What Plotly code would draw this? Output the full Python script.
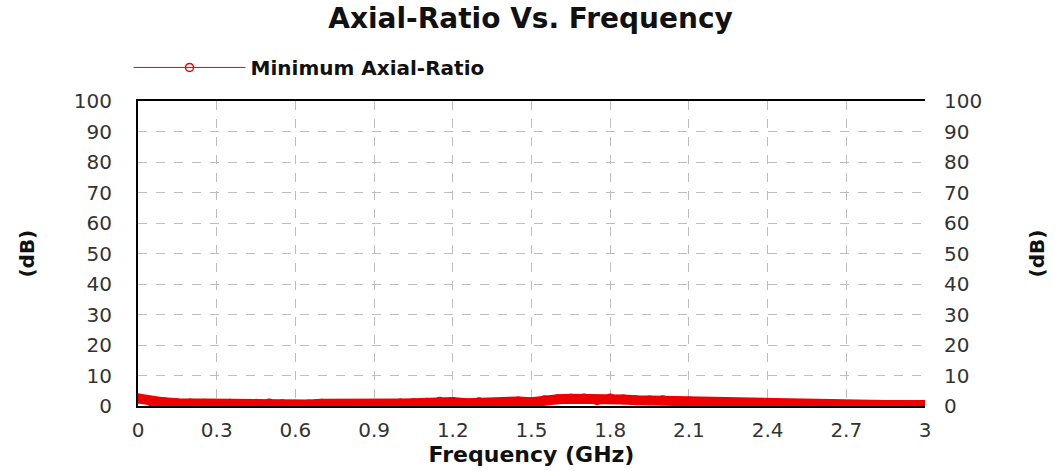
import plotly.graph_objects as go

freq_ghz = [0.00, 0.05, 0.10, 0.15, 0.20, 0.25, 0.30, 0.35, 0.40, 0.45,
            0.50, 0.55, 0.60, 0.65, 0.70, 0.75, 0.80, 0.85, 0.90, 0.95,
            1.00, 1.05, 1.10, 1.15, 1.20, 1.25, 1.30, 1.35, 1.40, 1.45,
            1.50, 1.55, 1.60, 1.65, 1.70, 1.75, 1.80, 1.85, 1.90, 1.95,
            2.00, 2.05, 2.10, 2.15, 2.20, 2.25, 2.30, 2.35, 2.40, 2.45,
            2.50, 2.55, 2.60, 2.65, 2.70, 2.75, 2.80, 2.85, 2.90, 2.95, 3.00]
axial_ratio_db = [2.5, 1.5, 1.2, 0.9, 0.8, 0.7, 0.6, 0.7, 0.6, 0.7,
                  0.8, 0.6, 0.4, 0.5, 0.7, 0.6, 0.4, 0.5, 0.5, 0.6,
                  0.8, 0.9, 1.1, 1.4, 1.3, 0.9, 1.2, 0.9, 1.1, 1.5,
                  1.2, 1.9, 2.2, 2.4, 2.5, 1.9, 2.5, 2.1, 1.9, 1.8,
                  1.9, 1.4, 1.5, 1.1, 1.2, 0.9, 1.0, 0.5, 0.4, 0.3,
                  0.3, 0.3, 0.3, 0.3, 0.3, 0.3, 0.3, 0.3, 0.3, 0.3, 0.3]

x_ticks = [0, 0.3, 0.6, 0.9, 1.2, 1.5, 1.8, 2.1, 2.4, 2.7, 3]
x_tick_labels = ["0", "0.3", "0.6", "0.9", "1.2", "1.5", "1.8", "2.1", "2.4", "2.7", "3"]
y_ticks = [0, 10, 20, 30, 40, 50, 60, 70, 80, 90, 100]

series_name = "Minimum Axial-Ratio"
RED = "#ee0000"
FONT = "DejaVu Sans, Verdana, sans-serif"

fig = go.Figure()

# thick data band
fig.add_trace(go.Scatter(
    x=freq_ghz, y=axial_ratio_db, mode="lines+markers",
    line=dict(color=RED, width=10),
    marker=dict(symbol="circle", size=10, color=RED),
    showlegend=False, hoverinfo="x+y",
))
# legend entry (thin line + open circle)
fig.add_trace(go.Scatter(
    x=[None], y=[None], mode="lines+markers", name=series_name,
    line=dict(color=RED, width=1),
    marker=dict(symbol="circle-open", size=8, color=RED, line=dict(width=1.5)),
))
# mirrored right axis
fig.add_trace(go.Scatter(
    x=[None], y=[None], yaxis="y2", showlegend=False, hoverinfo="skip",
))

grid = dict(showgrid=True, gridcolor="#bdbdbd", griddash="dash", gridwidth=1)
tickfont = dict(family=FONT, size=20, color="#333333")

fig.update_layout(
    width=1061, height=471,
    margin=dict(l=138, r=136, t=101, b=63),
    paper_bgcolor="white", plot_bgcolor="white",
    title=dict(text="<b>Axial-Ratio Vs. Frequency</b>", x=0.5, xanchor="center",
               y=0.962, yanchor="middle",
               font=dict(family=FONT, size=28, color="#111111")),
    legend=dict(x=-0.012, y=1.11, xanchor="left", yanchor="middle",
                font=dict(family=FONT, size=20, color="#111111", weight="bold"),
                bgcolor="rgba(0,0,0,0)", itemwidth=112),
    xaxis=dict(range=[0, 3], tickvals=x_ticks, ticktext=x_tick_labels,
               tickfont=tickfont, ticks="", showline=True, linecolor="black",
               linewidth=2, mirror=True, zeroline=False, ticklabelstandoff=5,
               title=dict(text="<b>Frequency (GHz)</b>", standoff=2,
                          font=dict(family=FONT, size=22, color="#111111")),
               **grid),
    yaxis=dict(range=[0, 100], tickvals=y_ticks, tickfont=tickfont, ticks="",
               showline=True, linecolor="black", linewidth=2, zeroline=False,
               ticklabelstandoff=20, **grid),
    yaxis2=dict(range=[0, 100], tickvals=y_ticks, tickfont=tickfont, ticks="",
                overlaying="y", side="right", showgrid=False, zeroline=False,
                showline=False, ticklabelstandoff=18),
    annotations=[
        dict(text="<b>(dB)</b>", xref="paper", yref="paper", x=-0.16, y=0.5,
             textangle=-90, showarrow=False,
             font=dict(family=FONT, size=20, color="#111111")),
        dict(text="<b>(dB)</b>", xref="paper", yref="paper", x=1.16, y=0.5,
             textangle=-90, showarrow=False,
             font=dict(family=FONT, size=20, color="#111111")),
    ],
)

fig.write_html("out.html")
